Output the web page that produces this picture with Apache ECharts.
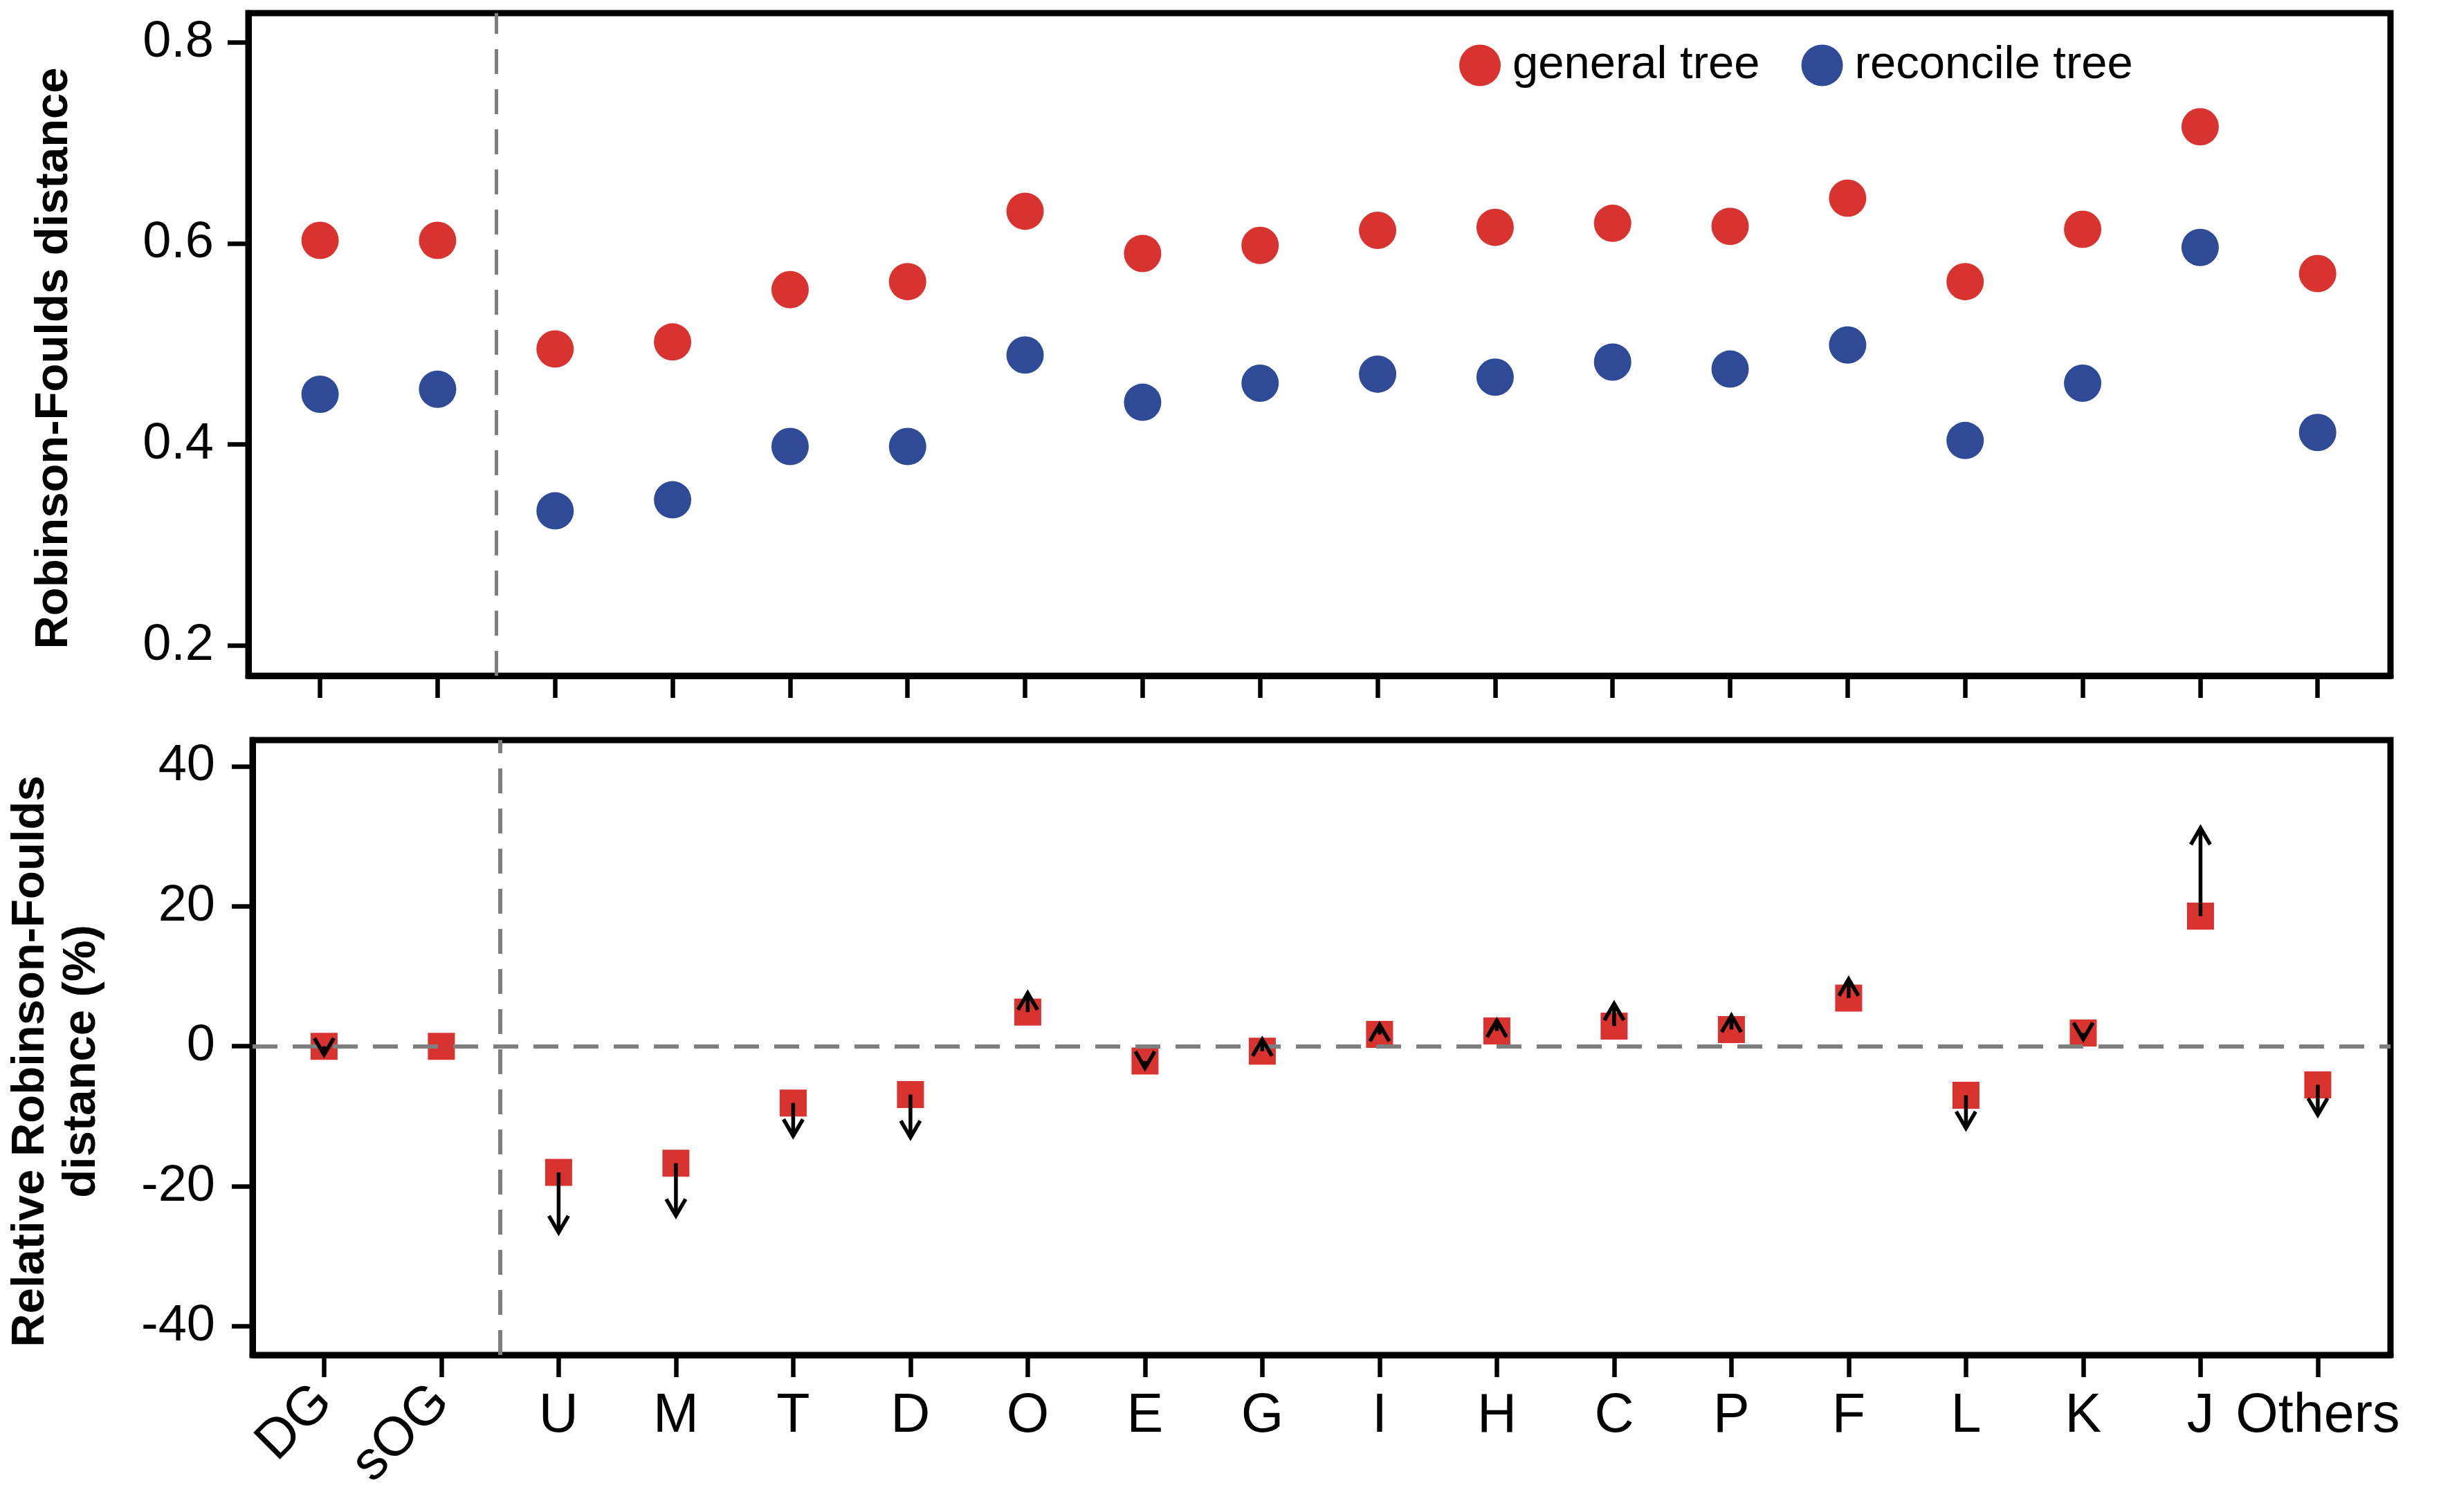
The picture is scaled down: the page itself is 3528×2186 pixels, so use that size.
<!DOCTYPE html>
<html>
<head>
<meta charset="utf-8">
<script src="https://cdn.jsdelivr.net/npm/echarts@6/dist/echarts.min.js"></script>
<style>
html,body{margin:0;padding:0;background:#fff;}
#chart{width:3528px;height:2186px;}
</style>
</head>
<body>
<div id="chart"></div>
<script>
const categories = ['DG','sOG','U','M','T','D','O','E','G','I','H','C','P','F','L','K','J','Others'];
const generalTree = [0.603,0.603,0.495,0.502,0.554,0.562,0.632,0.590,0.598,0.613,0.616,0.620,0.617,0.645,0.562,0.614,0.716,0.570];
const reconcileTree = [0.450,0.455,0.334,0.345,0.398,0.398,0.489,0.442,0.461,0.470,0.467,0.482,0.475,0.499,0.404,0.461,0.596,0.412];
const relativeRF = [0,0,-18.0,-16.7,-8.1,-6.9,4.9,-2.1,-0.7,1.7,2.2,2.9,2.4,6.9,-7.0,1.9,18.6,-5.5];
const arrowEnd = [-1.2,null,-26.6,-24.2,-12.8,-13.0,7.6,-3.1,1.0,3.1,3.7,6.1,4.4,9.6,-11.7,1.0,31.2,-9.8];
const topTicks = [0.2,0.4,0.6,0.8];
const bottomTicks = [-40,-20,0,20,40];
const rotatedLabelIdx = [0,1];
const straightLabelIdx = [2,3,4,5,6,7,8,9,10,11,12,13,14,15,16,17];
const separatorX = 1.5;

const RED = '#D9332F';
const BLUE = '#2F4A97';
const FONT = "'Liberation Sans', Arial, Helvetica, sans-serif";
const catIdx = categories.map((c,i)=>i);
const FRAME = 9;

const chart = echarts.init(document.getElementById('chart'), null, {renderer:'canvas'});

const xBase = {
  type:'value', min:-0.61, max:17.62,
  splitLine:{show:false},
  axisLine:{show:true, onZero:false, lineStyle:{color:'#000', width:FRAME}},
  axisTick:{show:true, inside:false, length:32, lineStyle:{color:'#000', width:6.5}, customValues:catIdx},
};

const option = {
  backgroundColor:'#fff',
  animation:false,
  textStyle:{fontFamily:FONT},
  grid:[
    {left:359, right:73, top:19, height:958, show:true, borderColor:'#000', borderWidth:FRAME, backgroundColor:'transparent'},
    {left:359, right:73, top:1070, height:889, show:true, borderColor:'#000', borderWidth:FRAME, backgroundColor:'transparent'}
  ],
  legend:{
    show:true, left:2104, top:56, orient:'horizontal', icon:'circle',
    itemWidth:60, itemHeight:60, itemGap:60,
    data:['general tree','reconcile tree'],
    textStyle:{fontSize:67, color:'#000', fontFamily:FONT, padding:[0,0,0,12]}
  },
  xAxis:[
    Object.assign({}, xBase, {gridIndex:0, axisLabel:{show:false}}),
    Object.assign({}, xBase, {gridIndex:1,
      axisLabel:{show:true, customValues:straightLabelIdx, margin:50, fontSize:79, color:'#000', fontFamily:FONT,
        formatter:(v)=>categories[Math.round(v)]}}),
    {type:'value', gridIndex:1, min:-0.61, max:17.62, position:'bottom',
      splitLine:{show:false}, axisLine:{show:false, onZero:false}, axisTick:{show:false},
      axisLabel:{show:true, customValues:rotatedLabelIdx, rotate:45, margin:56, fontSize:79, color:'#000', fontFamily:FONT,
        formatter:(v)=>categories[Math.round(v)]}}
  ],
  yAxis:[
    {type:'value', gridIndex:0, min:0.170, max:0.829,
      splitLine:{show:false},
      axisLine:{show:true, onZero:false, lineStyle:{color:'#000', width:FRAME}},
      axisTick:{show:true, length:30, lineStyle:{color:'#000', width:6.5}, customValues:topTicks},
      axisLabel:{show:true, customValues:topTicks, margin:50, fontSize:74, color:'#000', fontFamily:FONT,
        formatter:(v)=>v.toFixed(1)},
      name:'Robinson-Foulds distance', nameLocation:'middle', nameGap:280, nameRotate:90,
      nameTextStyle:{fontSize:67, fontWeight:'bold', color:'#000', fontFamily:FONT, verticalAlign:'middle', padding:[0,40,0,0]}
    },
    {type:'value', gridIndex:1, min:-44.1, max:43.75,
      splitLine:{show:false},
      axisLine:{show:true, onZero:false, lineStyle:{color:'#000', width:FRAME}},
      axisTick:{show:true, length:30, lineStyle:{color:'#000', width:6.5}, customValues:bottomTicks},
      axisLabel:{show:true, customValues:bottomTicks, margin:54, fontSize:74, color:'#000', fontFamily:FONT,
        formatter:(v)=>String(Math.round(v))},
      name:'Relative Robinson-Foulds\ndistance (%)', nameLocation:'middle', nameGap:283, nameRotate:90,
      nameTextStyle:{fontSize:67, fontWeight:'bold', color:'#000', fontFamily:FONT, verticalAlign:'middle', lineHeight:74, align:'center', padding:[0,40,0,0]}
    }
  ],
  series:[
    {
      name:'general tree', type:'scatter', xAxisIndex:0, yAxisIndex:0,
      symbol:'circle', symbolSize:54, itemStyle:{color:RED, opacity:1},
      data: generalTree.map((v,i)=>[i,v]), z:3,
      markLine:{silent:true, symbol:['none','none'], label:{show:false},
        lineStyle:{color:'#7f7f7f', width:5, type:[36,22]},
        data:[{xAxis:separatorX}]}
    },
    {
      name:'reconcile tree', type:'scatter', xAxisIndex:0, yAxisIndex:0,
      symbol:'circle', symbolSize:54, itemStyle:{color:BLUE, opacity:1},
      data: reconcileTree.map((v,i)=>[i,v]), z:3
    },
    {
      name:'relative', type:'scatter', xAxisIndex:1, yAxisIndex:1,
      symbol:'rect', symbolSize:39, itemStyle:{color:RED, opacity:1},
      data: relativeRF.map((v,i)=>[i,v]), z:3,
      markLine:{silent:true, symbol:['none','none'], label:{show:false},
        lineStyle:{color:'#7f7f7f', width:6, type:[36,22]},
        data:[{xAxis:separatorX},{yAxis:0}]}
    },
    {
      name:'arrows', type:'custom', xAxisIndex:1, yAxisIndex:1, z:5,
      data: relativeRF.map((v,i)=>[i,v,arrowEnd[i]]).filter(d=>d[2]!==null),
      renderItem:function(params, api){
        const x = api.value(0), y0 = api.value(1), y1 = api.value(2);
        const p0 = api.coord([x,y0]);
        const p1 = api.coord([x,y1]);
        const dir = p1[1] < p0[1] ? -1 : 1;
        const hw = 14, hl = 24;
        const style = {stroke:'#000', lineWidth:5.5, fill:null, lineCap:'butt', lineJoin:'miter'};
        return {
          type:'group',
          children:[
            {type:'line', shape:{x1:p0[0], y1:p0[1], x2:p1[0], y2:p1[1]}, style:style},
            {type:'polyline', shape:{points:[[p1[0]-hw, p1[1]-dir*hl],[p1[0], p1[1]],[p1[0]+hw, p1[1]-dir*hl]]}, style:style}
          ]
        };
      }
    }
  ]
};
chart.setOption(option);
</script>
</body>
</html>
